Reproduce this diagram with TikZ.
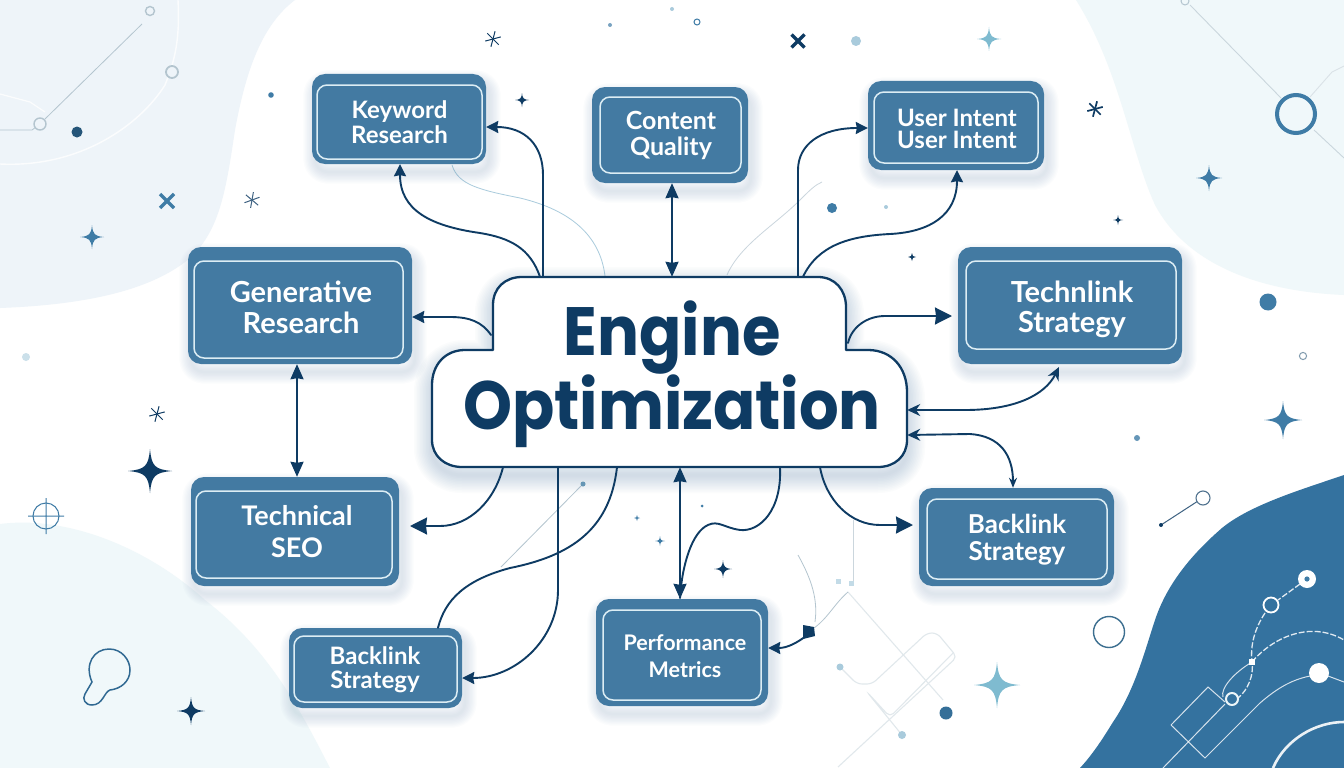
\documentclass[tikz,border=0pt]{standalone}
\usepackage{fontspec}
\usepackage{graphicx}
\setmainfont{Poppins}
\newfontfamily\lbl{Lato}
\usetikzlibrary{arrows.meta,calc}
\definecolor{navy}{HTML}{0E3B63}
\definecolor{boxblue}{HTML}{437AA2}
\definecolor{boxline}{HTML}{DCEDF4}
\definecolor{pale}{HTML}{EEF4F9}
\definecolor{paleb}{HTML}{F0F8FA}
\definecolor{deep}{HTML}{34729F}
\definecolor{midblue}{HTML}{3F7CA6}
\definecolor{lightb}{HTML}{A9CBDC}
\definecolor{teal}{HTML}{7FBBD0}
\definecolor{greyl}{HTML}{B4C5CF}
\definecolor{shade}{HTML}{6F97B5}
\tikzset{
  conn/.style={draw=navy,line width=1.9pt,line cap=round},
  head/.style={-{Stealth[length=12pt,width=12pt,inset=1pt]}},
  bighead/.style={-{Stealth[length=17pt,width=17pt,inset=1pt]}},
  dhead/.style={{Stealth[length=15pt,width=13pt,inset=1pt]}-{Stealth[length=15pt,width=13pt,inset=1pt]}},
  hair/.style={draw=lightb,line width=.8pt},
  thin/.style={draw=greyl,line width=.8pt},
  faint/.style={draw=greyl!40,line width=1.1pt,rounded corners=5pt},
  wline/.style={draw=white,line width=1pt,opacity=.8},
  wdash/.style={draw=white!85!deep,line width=1.3pt,dash pattern=on 6pt off 2pt},
  boxnode/.style={fill=boxblue,rounded corners=13pt,inner sep=0pt,align=center,text=white},
  innernode/.style={draw=boxline,line width=1.5pt,rounded corners=10pt,inner sep=0pt},
  labelnode/.style={inner sep=0pt,align=center,text=white},
}
\newcommand\bx[9]{% name, outer x1 y1 x2 y2, inner x1 y1 x2 y2
  \foreach \i in {1,...,9}{\path[draw=shade,draw opacity=.024,line width=\i*2.6pt,rounded corners=13pt,line join=round] (#2+3,#3+8) rectangle (#4+3,#5+8);}
  \node[boxnode,minimum width={(#4-#2)*1pt},minimum height={(#5-#3)*1pt}] (#1) at ({(#2+#4)/2},{(#3+#5)/2}) {};
  \node[innernode,minimum width={(#8-#6)*1pt},minimum height={(#9-#7)*1pt}] (#1in) at ({(#6+#8)/2},{(#7+#9)/2}) {};
}
\newcommand\lb[7]{% name size cx baseline1 baseline2 line1 line2
  \pgfmathsetmacro\ld{#5-#4}
  \node[labelnode,font=\lbl\bfseries\fontsize{#2}{\ld}\selectfont] (#1tx) at (#3,{(#4+#5)/2-.275*#2}) {\rule{0pt}{.75em}#6\\#7\rule[-.2em]{0pt}{.2em}};
}
\newcommand\sparkle[4]{\fill[#4,shift={(#1,#2)},scale=#3] (0,-1) .. controls (.07,-.22) and (.22,-.07) .. (1,0) .. controls (.22,.07) and (.07,.22) .. (0,1) .. controls (-.07,.22) and (-.22,.07) .. (-1,0) .. controls (-.22,-.07) and (-.07,-.22) .. cycle;}
\newcommand\aster[5][1pt]{\foreach \a in {0,60,120}{\draw[#5,line width=#1,shift={(#2,#3)},rotate=\a+#4] (-8,0) -- (8,0);}}
\newcommand\xmark[4]{\draw[#4,line width=3.2pt,shift={(#1,#2)}] (-#3,-#3) -- (#3,#3) (-#3,#3) -- (#3,-#3);}
\newcommand\cloudpath{(493,350) -- (493,305) .. controls (493,288) and (505,277) .. (522,277) -- (818,277) .. controls (835,277) and (846,290) .. (846,307) -- (846,350) -- (868,350) .. controls (892,350) and (907,368) .. (907,392) -- (907,440) .. controls (907,456) and (895,467) .. (878,467) -- (462,467) .. controls (445,467) and (432,456) .. (432,440) -- (432,385) .. controls (432,365) and (445,350) .. (465,350) -- cycle}
\begin{document}
\begin{tikzpicture}[x=1pt,y=-1pt]
\useasboundingbox (0,0) rectangle (1344,768);
\fill[white] (0,0) rectangle (1344,768);
% background blobs
\fill[pale] (0,0) -- (295,0) .. controls (262,25) and (246,70) .. (235,130) .. controls (226,190) and (220,230) .. (190,258) .. controls (150,292) and (80,305) .. (0,308) -- cycle;
\fill[paleb] (1076,0) -- (1344,0) -- (1344,295) .. controls (1270,292) and (1190,270) .. (1155,205) .. controls (1130,150) and (1120,70) .. (1076,0) -- cycle;
\fill[paleb] (0,524) .. controls (70,515) and (150,550) .. (205,600) .. controls (270,650) and (300,710) .. (330,768) -- (0,768) -- cycle;
\fill[deep] (1344,475) .. controls (1300,490) and (1250,505) .. (1222,528) .. controls (1185,560) and (1165,590) .. (1155,620) .. controls (1145,650) and (1135,690) .. (1113,722) .. controls (1102,740) and (1092,755) .. (1080,768) -- (1344,768) -- cycle;
% top-left ornaments
\draw[wline,line width=1.4pt] (178,0) .. controls (180,40) and (175,60) .. (165,85) .. controls (140,125) and (80,168) .. (0,164);
\draw[wline,line width=1.2pt] (0,94) -- (30,102) -- (45,112);
\draw[thin] (0,130) -- (32,130) -- (36,127);
\draw[thin] (45,119) -- (142,24);
\draw[greyl,line width=1.4pt,fill=pale] (40,124) circle (6);
\draw[greyl,line width=1.4pt,fill=pale] (150,11) circle (4.5);
\draw[greyl,line width=1.8pt,fill=pale] (172,72) circle (6);
\fill[navy!80!teal] (77,132) circle (5.5);
\xmark{167}{201}{7}{midblue}
\sparkle{92}{237}{12}{midblue}
\aster{252}{200}{20}{navy!80}
\fill[midblue] (271,95) circle (2.8);
% top-right ornaments
\draw[greyl!70,line width=.9pt] (1190,5) -- (1281,98);
\draw[greyl!70,line width=.9pt] (1314,130) -- (1344,158);
\draw[greyl!50,line width=.9pt] (1310,97) -- (1332,72) -- (1344,66);
\draw[greyl,line width=1pt] (1185,1) circle (4);
\draw[midblue,line width=4pt] (1296,114) circle (19);
\sparkle{1209}{178}{13}{midblue}
\aster[1.7pt]{1095}{109}{15}{navy}
\sparkle{1118}{220}{5}{navy}
\fill[midblue] (1268,302) circle (8.5);
\draw[greyl!70!navy,line width=1pt] (1303,356) circle (3.6);
\sparkle{1283}{420}{19}{midblue}
\fill[midblue!80] (1137,438) circle (3);
% top ornaments
\aster{493}{39}{15}{navy}
\xmark{798}{41}{6.5}{navy}
\fill[lightb] (856,41) circle (5);
\draw[midblue,line width=1pt] (697,22) circle (3);
\fill[midblue!70] (610,25) circle (2);
\fill[lightb] (672,9) circle (2);
\sparkle{522}{100}{7}{navy}
\sparkle{989}{39}{12}{teal}
\fill[midblue] (832,208) circle (5);
\fill[lightb] (886,207) circle (2);
\sparkle{912}{257}{4}{navy}
% left / bottom ornaments
\fill[lightb!60] (26,357) circle (4);
\aster{157}{414}{15}{navy}
\sparkle{150}{471}{22}{navy}
\draw[midblue,line width=1pt] (46,516) circle (13) (28,516) -- (64,516) (46,498) -- (46,534);
\draw[midblue!70!navy,line width=1.5pt] (92,682) .. controls (84,664) and (94,649) .. (109,649) .. controls (122,649) and (130,660) .. (130,670) .. controls (130,682) and (120,689) .. (110,690) .. controls (104,692) and (103,705) .. (92,705) .. controls (85,705) and (82,699) .. (85,694) -- cycle;
\sparkle{191}{711}{14}{navy}
\sparkle{660}{541}{5}{midblue}
\sparkle{637}{518}{3}{midblue}
\sparkle{723}{569}{9}{navy}
\fill[midblue] (702,506) circle (1.5);
% bottom-right ornaments
\draw[navy!80,line width=1pt] (1161,525) -- (1198,501);
\fill[navy] (1161,525) circle (2);
\draw[navy!60!greyl,line width=1.1pt,fill=white] (1203,498) circle (7);
\draw[navy!60!teal,line width=1.4pt] (1109,632) circle (15.5);
\sparkle{997}{685}{23}{teal}
\draw[thin,draw=greyl!70] (853,520) -- (853,582);
\draw[faint] (848,592) -- (943,700);
\draw[faint] (840,667) -- (857,684) -- (872,684) -- (927,633) -- (937,633) -- (957,657) -- (838,767);
\draw[faint] (953,653) -- (890,717) -- (867,692) -- (902,735);
\fill[lightb] (840,667) circle (3.5);
\fill[lightb] (902,735) circle (4);
\fill[lightb!70] (836,579) rectangle (841,584);
\fill[lightb!70] (849,581) rectangle (854,586);
\fill[midblue!80!navy] (946,713) circle (6.5);
% inside the dark blob
\draw[wline,line width=1pt] (1163,768) -- (1225,704);
\draw[wline,line width=1pt] (1171,725) -- (1208,687) -- (1225,702);
\draw[wline,line width=1pt] (1171,725) -- (1205,758) -- (1260,703) .. controls (1275,690) and (1290,680) .. (1310,676);
\draw[wline,line width=1pt] (1328,676) -- (1344,682);
\draw[wdash] (1300,584) -- (1278,600);
\draw[wdash] (1265,613) .. controls (1255,628) and (1250,645) .. (1252,662) .. controls (1254,675) and (1248,690) .. (1238,698);
\draw[wline,line width=1pt] (1252,662) .. controls (1235,672) and (1220,688) .. (1223,697);
\draw[wdash] (1252,662) .. controls (1272,638) and (1310,620) .. (1344,640);
\draw[white,line width=2.6pt,opacity=.9] (1273,768) .. controls (1285,740) and (1315,722) .. (1344,722);
\draw[white,line width=1.8pt] (1271,605) circle (7.5);
\draw[white!85!teal,line width=2pt] (1232,699) circle (6);
\fill[white] (1319,673) circle (10);
\fill[white] (1249,659) rectangle (1255,665);
\fill[white] (1307,579) circle (9);
\fill[midblue] (1307,579) circle (2.6);
% thin connecting lines
\draw[hair] (452,165) .. controls (458,185) and (480,190) .. (520,198) .. controls (570,210) and (600,235) .. (605,276);
\draw[hair,draw=greyl!70] (727,275) .. controls (740,245) and (775,225) .. (800,200) .. controls (810,190) and (815,185) .. (822,182);
\draw[thin] (501,567) -- (581,486);
\fill[midblue!80] (583,484) circle (2.5);
\draw[thin] (798,555) .. controls (812,580) and (818,600) .. (815,622);
\draw[thin] (848,592) .. controls (835,603) and (828,618) .. (814,628);
% cloud
\foreach \i in {1,...,12}{\path[draw=shade,draw opacity=.026,line width=\i*3pt,line join=round,shift={(0,8)}] \cloudpath;}
\path[fill=white,draw=navy,line width=2.3pt,line join=round] \cloudpath;
\node[minimum width=475pt,minimum height=190pt,inner sep=0pt] (cloud) at (669.5,372) {};
\node[inner sep=0pt,align=center,text=navy,font=\fontsize{67}{70}\selectfont\bfseries] (cloudtx) at (672,374) {\scalebox{.93}[1.02]{Engine}\\\scalebox{.93}[1.02]{Optimization}};
% boxes
\bx{kw}{312}{74}{486}{164}{317}{85}{482}{159}
\lb{kw}{24}{399.5}{118}{143}{Keyword}{Research}
\bx{cq}{592}{87}{748}{183}{600}{97}{741}{173}
\lb{cq}{25}{671}{129}{155}{Content}{Quality}
\bx{ui}{868}{81}{1044}{170}{874}{92}{1038}{163}
\lb{ui}{24}{957}{126}{148}{User Intent}{User Intent}
\bx{ge}{188}{247}{412}{364}{194}{261}{403}{358}
\lb{ge}{29}{301}{302}{333}{Generative}{Research}
\bx{tl}{958}{247}{1182}{364}{966}{261}{1176}{349}
\lb{tl}{29}{1072}{302}{332}{Technlink}{Strategy}
\bx{te}{191}{477}{399}{586}{196}{491}{392}{578}
\lb{te}{27}{297}{525}{557}{Technical}{SEO}
\bx{br}{919}{488}{1114}{586}{927}{499}{1107}{579}
\lb{br}{26}{1017}{533}{560}{Backlink}{Strategy}
\bx{bl}{289}{628}{462}{708}{294}{636}{457}{702}
\lb{bl}{24}{375}{664}{688}{Backlink}{Strategy}
\bx{pm}{596}{599}{768}{706}{603}{610}{761}{700}
\lb{pm}{21.5}{685}{650}{677}{Performance}{Metrics}
% connectors
\draw[conn,head] (543,0 |- cloud.north) -- (543,175) .. controls (543,145) and (525,127) .. (kw.east |- 0,127);
\draw[conn,head] (540,0 |- cloud.north) .. controls (530,248) and (510,238) .. (480,233) .. controls (430,226) and (400,210) .. (400,0 |- kw.south);
\draw[conn,dhead] (672,0 |- cq.south) -- (672,0 |- cloud.north);
\draw[conn,head] (798,0 |- cloud.north) -- (798,170) .. controls (798,145) and (820,128) .. (ui.west |- 0,128);
\draw[conn,head] (803,0 |- cloud.north) .. controls (818,245) and (850,236) .. (890,234) .. controls (930,232) and (957,215) .. (957,0 |- ui.south);
\draw[conn,head] (491,335) .. controls (482,322) and (470,317) .. (450,317) -- (ge.east |- 0,317);
\draw[conn,bighead] (848,343) .. controls (852,326) and (868,316) .. (885,316) -- (952,316);
\draw[conn,dhead] (297,0 |- ge.south) -- (297,0 |- te.north);
\draw[conn,{Stealth[length=13pt,width=12pt]}-{Stealth[length=13pt,width=12pt]}] (cloud.east |- 0,410) -- (965,410) .. controls (1015,410) and (1045,395) .. (1059,367);
\draw[conn,{Stealth[length=13pt,width=12pt]}-{Stealth[length=10pt,width=8pt]}] (cloud.east |- 0,435) -- (970,434) .. controls (1000,436) and (1013,455) .. (1013,0 |- br.north);
\draw[conn,bighead] (820,0 |- cloud.south) .. controls (826,500) and (850,525) .. (880,525) -- (913,525);
\draw[conn,dhead] (680,0 |- cloud.south) -- (680,0 |- pm.north);
\draw[conn] (780,0 |- cloud.south) .. controls (782,510) and (760,532) .. (740,530) .. controls (725,528) and (718,520) .. (708,525) .. controls (692,532) and (682,565) .. (680,598);
\draw[conn,bighead] (503,0 |- cloud.south) .. controls (495,500) and (470,526) .. (440,526) -- (410,526);
\draw[conn,head] (558,0 |- cloud.south) -- (558,590) .. controls (558,640) and (515,678) .. (bl.east |- 0,678);
\draw[conn] (617,0 |- cloud.south) .. controls (610,530) and (570,556) .. (510,568) .. controls (465,580) and (445,600) .. (438,0 |- bl.north);
\draw[conn,head] (806,636) .. controls (798,642) and (788,648) .. (pm.east |- 0,648);
\fill[navy] (803,625) -- (814,627) -- (815,636) -- (803,639) -- cycle;
\end{tikzpicture}
\end{document}
